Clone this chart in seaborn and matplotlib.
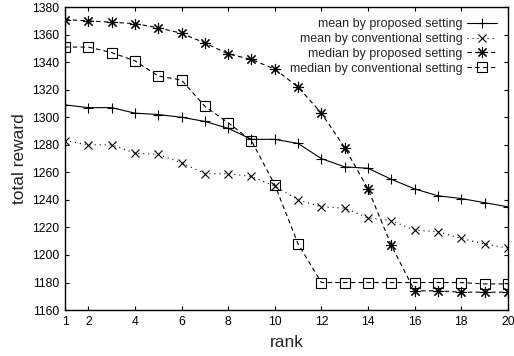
import numpy as np
import pandas as pd
import matplotlib
matplotlib.use('Agg')
import matplotlib.pyplot as plt
import seaborn as sns

rank = list(range(1, 21))

mean_proposed = [1309, 1307, 1307, 1303, 1302, 1300, 1297, 1292, 1284, 1284,
                 1281, 1270, 1264, 1263, 1255, 1248, 1243, 1241, 1238, 1235]
mean_conventional = [1283, 1280, 1280, 1274, 1273, 1267, 1259, 1259, 1257, 1250,
                     1240, 1235, 1234, 1227, 1225, 1218, 1217, 1212, 1208, 1205]
median_proposed = [1371, 1370, 1369, 1368, 1365, 1361, 1354, 1346, 1342, 1335,
                   1322, 1303, 1278, 1248, 1207, 1174, 1174, 1173, 1173, 1173]
median_conventional = [1351, 1351, 1347, 1341, 1330, 1327, 1308, 1296, 1283, 1251,
                       1208, 1180, 1180, 1180, 1180, 1180, 1180, 1180, 1179, 1179]

labels = ['mean by proposed setting', 'mean by conventional setting',
          'median by proposed setting', 'median by conventional setting']

sns.set_style('ticks')
plt.rcParams['font.family'] = ['Liberation Sans', 'DejaVu Sans']

fig = plt.figure(figsize=(5.14, 3.56), dpi=100)
ax = fig.add_axes([0.1265, 0.129, 0.8615, 0.851])

series = [
    (mean_proposed, '+', '-', 7, 'black'),
    (mean_conventional, 'x', (0, (1, 3.5)), 6, 'black'),
    (median_proposed, (8, 2, 0), (0, (4, 3)), 8, 'black'),
    (median_conventional, 's', (0, (4, 3)), 7, 'none'),
]
for (vals, mk, ls, ms, fc), lab in zip(series, labels):
    sns.lineplot(x=rank, y=vals, ax=ax, color='black', marker=mk, linestyle=ls,
                 markersize=ms, markerfacecolor=fc, markeredgecolor='black',
                 markeredgewidth=0.8, linewidth=0.8, label=lab)

ax.set_xlim(1, 20)
ax.set_ylim(1160, 1380)
ax.set_xticks([1, 2, 4, 6, 8, 10, 12, 14, 16, 18, 20])
ax.set_yticks(np.arange(1160, 1381, 20))
ax.tick_params(direction='in', top=True, right=True, labelsize=8.7, length=3,
               width=0.8, pad=4, colors='black')
for sp in ax.spines.values():
    sp.set_visible(True)
    sp.set_linewidth(1.0)
    sp.set_color('black')

ax.set_xlabel('rank', fontsize=12.5, labelpad=5)
ax.set_ylabel('total reward', fontsize=12.5, labelpad=4)

ax.legend(loc='upper right', frameon=False, markerfirst=False, fontsize=9,
          handlelength=2.4, handletextpad=0.3, labelspacing=0.22,
          borderaxespad=0.5, alignment='right')

fig.savefig('out.png', dpi=100)
